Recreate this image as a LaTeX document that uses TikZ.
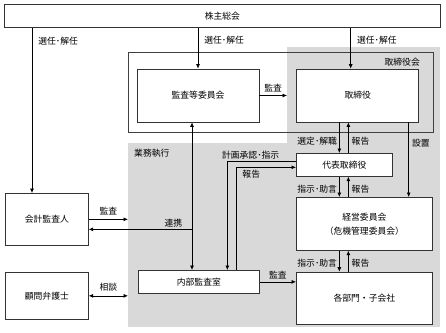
\documentclass[tikz,border=0pt]{standalone}
\usepackage{fontspec}
\setmainfont{Noto Sans CJK JP}
\usepackage{xcolor}
\usetikzlibrary{arrows.meta,positioning}

\begin{document}
\begin{tikzpicture}[
    x=1pt, y=-1pt,
    node distance=21pt and 37pt,
    font=\fontsize{8.8}{14}\selectfont,
    box/.style={draw=black!80, fill=white, align=center, inner sep=0pt, line width=0.7pt},
    region/.style={fill=black!15, inner sep=0pt, anchor=north west},
    lbl/.style={inner sep=1pt},
    arrow/.style={-{Latex[length=4.5pt, width=4pt]}, line width=0.7pt},
    twoway/.style={{Latex[length=4.5pt, width=4pt]}-{Latex[length=4.5pt, width=4pt]}, line width=0.7pt}
  ]
    \useasboundingbox (0,0) rectangle (446,332);

    % shaded areas
    \node[region, minimum width=312pt, minimum height=184pt] (gyomu) at (128,143) {};
    \node[region, minimum width=153pt, minimum height=96pt] (torikai) at (287,47) {};
    \node[draw=black!75, line width=0.8pt, minimum width=305pt, minimum height=80pt, anchor=north west] (frame) at (128,52) {};
    \node[lbl, anchor=west] (gyomulbl) at (133,153) {業務執行};
    \node[lbl, anchor=east] (torikailbl) at (421,62) {取締役会};

    \node[box, minimum width=436pt, minimum height=23pt, anchor=north west] (soukai) at (4,4) {株主総会};
    \node[box, minimum width=122pt, minimum height=53pt] (kansa) at (198,95.5) {監査等委員会};
    \node[box, minimum width=122pt, minimum height=53pt, right=of kansa] (torishimari) {取締役};
    \node[box, minimum width=96pt, minimum height=23pt, anchor=north west] (daihyo) at (296,153) {代表取締役};
    \node[box, minimum width=136pt, minimum height=53pt, anchor=north west] (keiei) at (296,197) {経営委員会\\（危機管理委員会）};
    \node[box, minimum width=136pt, minimum height=52pt, below=of keiei] (kakubu) {各部門・子会社};
    \node[box, minimum width=121pt, minimum height=23pt, anchor=north west] (naibu) at (138,270) {内部監査室};
    \node[box, minimum width=83pt, minimum height=52pt, anchor=north west] (kaikei) at (5,193) {会計監査人};
    \node[box, minimum width=83pt, minimum height=47pt, anchor=north west] (komon) at (5,272) {顧問弁護士};

    \coordinate (kaikeiin) at ([xshift=27pt]kaikei.north west);
    \coordinate (torishimariin) at ([xshift=-7pt]torishimari.north);
    \coordinate (dn) at ([xshift=-5pt]daihyo.north);
    \coordinate (up) at ([xshift=4pt]daihyo.north);
    \coordinate (setchi) at ([xshift=-24pt]keiei.north east);
    \coordinate (linkx) at ([xshift=-6pt]kansa.south);
    \coordinate (kaikeiout) at ([yshift=-10pt]kaikei.east);

    \draw[arrow] (soukai.south -| kaikeiin) -- (kaikeiin) node[pos=0.08, right=5pt, lbl] (sennin1) {選任･解任};
    \draw[arrow] (soukai.south -| kansa.north) -- (kansa.north) node[pos=0.31, right=5pt, lbl] (sennin2) {選任･解任};
    \draw[arrow] (soukai.south -| torishimariin) -- (torishimariin) node[pos=0.31, right=5pt, lbl] (sennin3) {選任･解任};
    \draw[arrow] (kansa.east) -- (kansa.east -| torikai.west) node[midway, above=2pt, lbl] (kansa1) {監査};

    \foreach \upper/\lower/\down in {torishimari/daihyo/選定･解職, daihyo/keiei/指示･助言, keiei/kakubu/指示･助言} {
      \draw[arrow] (\upper.south -| dn) -- (\lower.north -| dn) node[pos=0.6, left=1pt, lbl] (down-\lower) {\down};
      \draw[arrow] (\lower.north -| up) -- (\upper.south -| up) node[pos=0.4, right=2pt, lbl] (up-\lower) {報告};
    }
    \draw[arrow] (torishimari.south -| setchi) -- (setchi) node[pos=0.28, right=2pt, lbl] (setchilbl) {設置};

    \draw[arrow] ([yshift=3.5pt]daihyo.west) -| ([xshift=28.5pt]naibu.north) node[pos=0.33, above=1pt, lbl] (keikaku) {計画承認･指示};
    \draw[arrow] ([xshift=37.5pt]naibu.north) |- ([yshift=-2.5pt]daihyo.west) node[pos=0.625, below=1pt, lbl] (houkoku) {報告};

    \draw[twoway] (linkx) -- (linkx |- naibu.north);
    \draw[arrow] (linkx |- kaikeiout) -- (kaikeiout) node[pos=0.18, above=1pt, lbl] (renkei) {連携};
    \draw[arrow] (kaikei.east) -- (kaikei.east -| gyomu.west) node[midway, above=3pt, lbl] (kansa2) {監査};
    \draw[twoway] (komon.east) -- (komon.east -| gyomu.west) node[midway, above=3pt, lbl] (soudan) {相談};
    \draw[arrow] (naibu.east) -- (naibu.east -| kakubu.west) node[midway, above=1pt, lbl] (kansa3) {監査};
\end{tikzpicture}
\end{document}
